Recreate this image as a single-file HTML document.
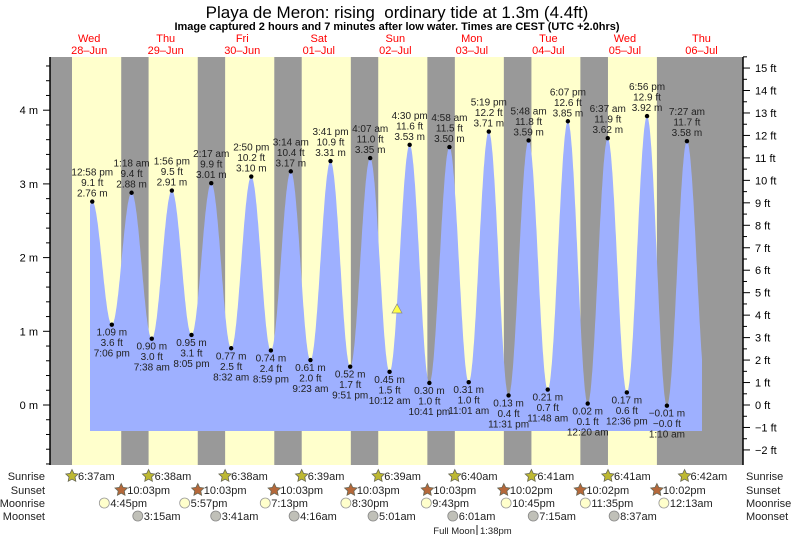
<!DOCTYPE html>
<html><head><meta charset="utf-8"><style>
body{margin:0;background:#fff;}
svg{display:block;font-family:"Liberation Sans",sans-serif;}
</style></head><body>
<svg id="s" width="793" height="539" xmlns="http://www.w3.org/2000/svg"></svg>
<script>
const s=document.getElementById('s');
const X=h=>50.9+h*3.189, Y=m=>405-m*73.7;
let o='';
o+='<text x="397" y="18" font-size="17" text-anchor="middle" fill="#000">Playa de Meron: rising&#160; ordinary tide at 1.3m (4.4ft)</text>';
o+='<text x="397" y="30" font-size="11" font-weight="bold" text-anchor="middle">Image captured 2 hours and 7 minutes after low water. Times are CEST (UTC +2.0hrs)</text>';
const days=[['Wed','28\u2013Jun'],['Thu','29\u2013Jun'],['Fri','30\u2013Jun'],['Sat','01\u2013Jul'],['Sun','02\u2013Jul'],['Mon','03\u2013Jul'],['Tue','04\u2013Jul'],['Wed','05\u2013Jul'],['Thu','06\u2013Jul']];
days.forEach((d,i)=>{const x=X(i*24+12);o+=`<text x="${x}" y="42" font-size="11" fill="#f00" text-anchor="middle">${d[0]}</text><text x="${x}" y="54" font-size="11" fill="#f00" text-anchor="middle">${d[1]}</text>`;});
o+='<rect x="50" y="57" width="693" height="408" fill="#999"/>';
const sr=[6.617,6.633,6.633,6.65,6.65,6.667,6.683,6.683,6.7], ss=[22.05,22.05,22.05,22.05,22.05,22.033,22.033,22.033];
for(let i=0;i<8;i++){o+=`<rect x="${X(i*24+sr[i])}" y="57" width="${X(i*24+ss[i])-X(i*24+sr[i])}" height="408" fill="#ffffcc"/>`;}
const T=(d,h,mi,pm)=>d*24+(h%12)+(pm?12:0)+mi/60;
const ex=[
[T(0,6,40,0),1.0,0],
[T(0,12,58,1),2.76,1,'12:58 pm','9.1'],[T(0,7,6,1),1.09,0,'7:06 pm','3.6'],
[T(1,1,18,0),2.88,1,'1:18 am','9.4'],[T(1,7,38,0),0.90,0,'7:38 am','3.0'],[T(1,1,56,1),2.91,1,'1:56 pm','9.5'],[T(1,8,5,1),0.95,0,'8:05 pm','3.1'],
[T(2,2,17,0),3.01,1,'2:17 am','9.9'],[T(2,8,32,0),0.77,0,'8:32 am','2.5'],[T(2,2,50,1),3.10,1,'2:50 pm','10.2'],[T(2,8,59,1),0.74,0,'8:59 pm','2.4'],
[T(3,3,14,0),3.17,1,'3:14 am','10.4'],[T(3,9,23,0),0.61,0,'9:23 am','2.0'],[T(3,3,41,1),3.31,1,'3:41 pm','10.9'],[T(3,9,51,1),0.52,0,'9:51 pm','1.7'],
[T(4,4,7,0),3.35,1,'4:07 am','11.0'],[T(4,10,12,0),0.45,0,'10:12 am','1.5'],[T(4,4,30,1),3.53,1,'4:30 pm','11.6'],[T(4,10,41,1),0.30,0,'10:41 pm','1.0'],
[T(5,4,58,0),3.50,1,'4:58 am','11.5'],[T(5,11,1,0),0.31,0,'11:01 am','1.0'],[T(5,5,19,1),3.71,1,'5:19 pm','12.2'],[T(5,11,31,1),0.13,0,'11:31 pm','0.4'],
[T(6,5,48,0),3.59,1,'5:48 am','11.8'],[T(6,11,48,0),0.21,0,'11:48 am','0.7'],[T(6,6,7,1),3.85,1,'6:07 pm','12.6'],
[T(7,12,20,0),0.02,0,'12:20 am','0.1'],[T(7,6,37,0),3.62,1,'6:37 am','11.9'],[T(7,12,36,1),0.17,0,'12:36 pm','0.6'],[T(7,6,56,1),3.92,1,'6:56 pm','12.9'],
[T(8,1,10,0),-0.01,0,'1:10 am','\u22120.0'],[T(8,7,27,0),3.58,1,'7:27 am','11.7'],[T(8,1,45,1),0.1,0]];
const h0=(90-50.9)/3.189, h1=(702-50.9)/3.189;
function H(t){for(let i=0;i<ex.length-1;i++){const a=ex[i],b=ex[i+1];if(t>=a[0]&&t<=b[0]){const f=(t-a[0])/(b[0]-a[0]);return a[1]+(b[1]-a[1])*(1-Math.cos(Math.PI*f))/2;}}return 0;}
let p=`M${X(h0)},431 `;
for(let t=h0;t<=h1;t+=0.1)p+=`L${X(t).toFixed(1)},${Y(H(t)).toFixed(1)} `;
p+=`L${X(h1)},${Y(H(h1)).toFixed(1)} L${X(h1)},431 Z`;
o+=`<path d="${p}" fill="#9eb0ff"/>`;
ex.forEach(e=>{if(!e[3])return;const x=X(e[0]),y=Y(e[1]);const m=(e[1]<0?'\u2212'+Math.abs(e[1]).toFixed(2):e[1].toFixed(2))+' m';
o+=`<circle cx="${x}" cy="${y}" r="2.2" fill="#000"/>`;
const L=e[2]?[e[3],e[4]+' ft',m]:[m,e[4]+' ft',e[3]];
L.forEach((t,k)=>{const yy=e[2]?y-26+k*10.5:y+11+k*10.5;o+=`<text x="${x}" y="${yy}" font-size="10" text-anchor="middle" fill="#222">${t}</text>`;});});
o+=`<polygon points="397,304 392,313 402,313" fill="#ffff44" stroke="#888" stroke-width="0.7"/>`;
o+='<line x1="50" y1="57" x2="50" y2="465" stroke="#000" stroke-width="1.5"/><line x1="743" y1="57" x2="743" y2="465" stroke="#000" stroke-width="1.5"/>';
for(let v=-0.8;v<=4.7;v+=0.2){const y=Y(v);if(y<57||y>465)continue;const maj=Math.abs(v-Math.round(v))<0.01;o+=`<line x1="${maj?43:46}" y1="${y}" x2="50" y2="${y}" stroke="#000"/>`;if(maj)o+=`<text x="38" y="${y+4}" font-size="11" text-anchor="end">${Math.round(v)} m</text>`;}
for(let f=-2;f<=15;f++){const y=405-f*0.3048*73.7;o+=`<line x1="743" y1="${y}" x2="750" y2="${y}" stroke="#000"/><line x1="743" y1="${y-11.2}" x2="747" y2="${y-11.2}" stroke="#000"/><text x="755" y="${y+4}" font-size="11">${f<0?'\u2212'+(-f):f} ft</text>`;}
const rows=[['Sunrise',480],['Sunset',494],['Moonrise',507],['Moonset',520]];
rows.forEach(r=>{o+=`<text x="45" y="${r[1]}" font-size="11" text-anchor="end" fill="#222">${r[0]}</text><text x="746" y="${r[1]}" font-size="11" fill="#222">${r[0]}</text>`;});
function star(x,y,c){let pts='';for(let k=0;k<10;k++){const a=-Math.PI/2+k*Math.PI/5,rr=k%2?3.2:6.5;pts+=`${(x+rr*Math.cos(a)).toFixed(1)},${(y+rr*Math.sin(a)).toFixed(1)} `;}return `<polygon points="${pts}" fill="${c}" stroke="#665" stroke-width="0.8"/>`;}
const srt=['6:37am','6:38am','6:38am','6:39am','6:39am','6:40am','6:41am','6:41am','6:42am'];
srt.forEach((t,i)=>{const x=X(i*24+sr[i]);o+=star(x,476,'#bdb832')+`<text x="${x+6}" y="480" font-size="11" fill="#222">${t}</text>`;});
const sst=['10:03pm','10:03pm','10:03pm','10:03pm','10:03pm','10:02pm','10:02pm','10:02pm'];
sst.forEach((t,i)=>{const x=X(i*24+ss[i]);o+=star(x,490,'#b5683a')+`<text x="${x+6}" y="494" font-size="11" fill="#222">${t}</text>`;});
const mr=[[16.75,'4:45pm'],[24+17.95,'5:57pm'],[48+19.217,'7:13pm'],[72+20.5,'8:30pm'],[96+21.717,'9:43pm'],[120+22.75,'10:45pm'],[144+23.583,'11:35pm'],[192.217,'12:13am']];
mr.forEach(m=>{const x=X(m[0]);o+=`<circle cx="${x}" cy="503" r="5" fill="#ffffcc" stroke="#999" stroke-width="0.8"/><text x="${x+6}" y="507" font-size="11" fill="#222">${m[1]}</text>`;});
const ms=[[27.25,'3:15am'],[51.683,'3:41am'],[76.267,'4:16am'],[101.017,'5:01am'],[126.017,'6:01am'],[151.25,'7:15am'],[176.617,'8:37am']];
ms.forEach(m=>{const x=X(m[0]);o+=`<circle cx="${x}" cy="516" r="5" fill="#c0c0b8" stroke="#888" stroke-width="0.8"/><text x="${x+6}" y="520" font-size="11" fill="#222">${m[1]}</text>`;});
o+=`<text x="475" y="534" font-size="9.5" text-anchor="end" fill="#222">Full Moon</text><line x1="477" y1="525" x2="477" y2="535" stroke="#222"/><text x="480" y="534" font-size="9.5" fill="#222">1:38pm</text>`;
s.innerHTML=o;
</script>
</body></html>
